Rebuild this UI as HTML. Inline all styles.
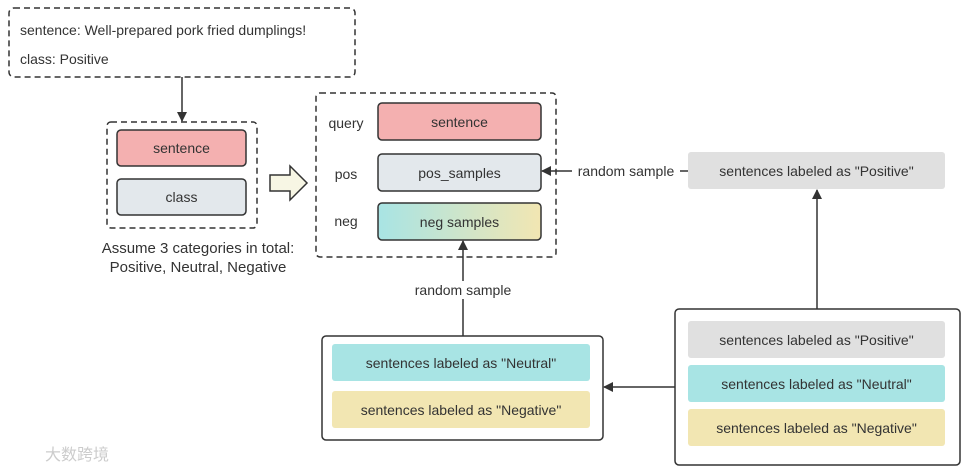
<!DOCTYPE html>
<html><head><meta charset="utf-8"><style>
html,body{margin:0;padding:0;background:#fff;}
svg{display:block;font-family:"Liberation Sans","Noto Sans CJK SC",sans-serif;}
text{fill:#333;font-size:14px;}
</style></head><body>
<svg width="971" height="470" viewBox="0 0 971 470" xmlns="http://www.w3.org/2000/svg">
<defs>
<marker id="ah" markerWidth="10" markerHeight="10" refX="9" refY="5" orient="auto" markerUnits="userSpaceOnUse">
<path d="M0,0 L10,5 L0,10 z" fill="#333"/></marker>
<linearGradient id="g1" x1="0" x2="1" y1="0" y2="0"><stop offset="0" stop-color="#a8e4e4"/><stop offset="1" stop-color="#f2e6b2"/></linearGradient>
</defs>
<!-- top box -->
<rect x="9" y="8" width="346" height="69" rx="5" fill="#fff" stroke="#333" stroke-width="1.5" stroke-dasharray="6,4"/>
<text x="20" y="35">sentence: Well-prepared pork fried dumplings!</text>
<text x="20" y="64">class: Positive</text>
<line x1="182" y1="77" x2="182" y2="121" stroke="#333" stroke-width="1.5" marker-end="url(#ah)"/>
<!-- left dashed -->
<rect x="107" y="122" width="150" height="106" rx="4" fill="#fff" stroke="#333" stroke-width="1.5" stroke-dasharray="6,4"/>
<rect x="117" y="130" width="129" height="36" rx="4" fill="#f4b0b0" stroke="#333" stroke-width="1.5"/>
<text x="181.5" y="153" text-anchor="middle">sentence</text>
<rect x="117" y="179" width="129" height="36" rx="4" fill="#e3e8ec" stroke="#333" stroke-width="1.5"/>
<text x="181.5" y="202" text-anchor="middle">class</text>
<text x="198" y="253" text-anchor="middle" style="font-size:15px">Assume 3 categories in total:</text>
<text x="198" y="272" text-anchor="middle" style="font-size:15px">Positive, Neutral, Negative</text>
<!-- hollow arrow -->
<path d="M270,175 L290,175 L290,166 L307,183 L290,200 L290,191 L270,191 z" fill="#f7f6e4" stroke="#333" stroke-width="1.5"/>
<!-- right dashed -->
<rect x="316" y="93" width="240" height="164" rx="4" fill="#fff" stroke="#333" stroke-width="1.5" stroke-dasharray="6,4"/>
<text x="346" y="128" text-anchor="middle">query</text>
<text x="346" y="179" text-anchor="middle">pos</text>
<text x="346" y="226" text-anchor="middle">neg</text>
<rect x="378" y="103" width="163" height="37" rx="4" fill="#f4b0b0" stroke="#333" stroke-width="1.5"/>
<text x="459.5" y="127" text-anchor="middle">sentence</text>
<rect x="378" y="154" width="163" height="37" rx="4" fill="#e3e8ec" stroke="#333" stroke-width="1.5"/>
<text x="459.5" y="178" text-anchor="middle">pos_samples</text>
<rect x="378" y="203" width="163" height="37" rx="4" fill="url(#g1)" stroke="#333" stroke-width="1.5"/>
<text x="459.5" y="227" text-anchor="middle">neg samples</text>
<!-- pos arrow -->
<line x1="688" y1="171" x2="542" y2="171" stroke="#333" stroke-width="1.5" marker-end="url(#ah)"/>
<rect x="572" y="162" width="108" height="18" fill="#fff"/>
<text x="626" y="176" text-anchor="middle">random sample</text>
<rect x="688" y="152" width="257" height="37" rx="3" fill="#e0e0e0"/>
<text x="816.5" y="176" text-anchor="middle">sentences labeled as "Positive"</text>
<line x1="817" y1="309" x2="817" y2="190" stroke="#333" stroke-width="1.5" marker-end="url(#ah)"/>
<!-- bottom right -->
<rect x="675" y="309" width="285" height="156" rx="4" fill="#fff" stroke="#333" stroke-width="1.5"/>
<rect x="688" y="321" width="257" height="37" rx="3" fill="#e0e0e0"/>
<text x="816.5" y="345" text-anchor="middle">sentences labeled as "Positive"</text>
<rect x="688" y="365" width="257" height="37" rx="3" fill="#a8e4e4"/>
<text x="816.5" y="389" text-anchor="middle">sentences labeled as "Neutral"</text>
<rect x="688" y="409" width="257" height="37" rx="3" fill="#f2e6b2"/>
<text x="816.5" y="433" text-anchor="middle">sentences labeled as "Negative"</text>
<line x1="675" y1="387" x2="604" y2="387" stroke="#333" stroke-width="1.5" marker-end="url(#ah)"/>
<!-- bottom left -->
<rect x="322" y="336" width="281" height="104" rx="4" fill="#fff" stroke="#333" stroke-width="1.5"/>
<rect x="332" y="344" width="258" height="37" rx="3" fill="#a8e4e4"/>
<text x="461" y="368" text-anchor="middle">sentences labeled as "Neutral"</text>
<rect x="332" y="391" width="258" height="37" rx="3" fill="#f2e6b2"/>
<text x="461" y="415" text-anchor="middle">sentences labeled as "Negative"</text>
<line x1="463" y1="336" x2="463" y2="241" stroke="#333" stroke-width="1.5" marker-end="url(#ah)"/>
<rect x="408" y="281" width="112" height="18" fill="#fff"/>
<text x="463" y="295" text-anchor="middle">random sample</text>
<text x="45" y="460" style="font-size:16px;fill:#ccc">大数跨境</text>
</svg>
</body></html>
